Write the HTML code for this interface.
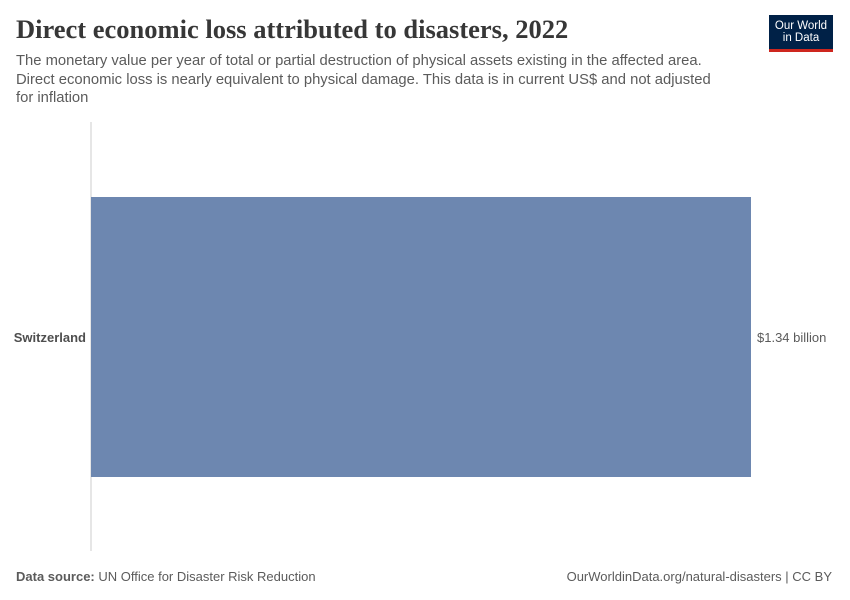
<!DOCTYPE html>
<html><head><meta charset="utf-8"><style>
body{margin:0;width:850px;height:600px;background:#fff;font-family:"Liberation Sans",sans-serif;overflow:hidden;position:relative}
.t{position:absolute;white-space:nowrap}
</style></head><body>
<div class="t" style="left:16px;top:14px;font-family:'Liberation Serif',serif;font-size:26.5px;font-weight:bold;color:#373737">Direct economic loss attributed to disasters, 2022</div>
<div class="t" style="left:16px;top:52px;font-size:14.8px;line-height:18.5px;color:#5b5b5b;white-space:normal;width:740px">The monetary value per year of total or partial destruction of physical assets existing in the affected area.<br>Direct economic loss is nearly equivalent to physical damage. This data is in current US$ and not adjusted<br>for inflation</div>
<div style="position:absolute;left:769px;top:15px;width:64px;height:37px;background:#002147;border-bottom:3px solid #ce261e;box-sizing:border-box;color:#fff;font-size:11.5px;line-height:12px;text-align:center;padding-top:5px">Our World<br>in Data</div>
<svg id="c" width="850" height="600" style="position:absolute;left:0;top:0"></svg>
<div class="t" style="left:16px;top:569px;font-size:13px;color:#5b5b5b"><b>Data source:</b> UN Office for Disaster Risk Reduction</div>
<div class="t" style="right:18px;top:569px;font-size:13px;color:#5b5b5b">OurWorldinData.org/natural-disasters | CC BY</div>
<script>
const categories=["Switzerland"];
const values=[1.34];
const valueLabels=["$1.34 billion"];
const svg=document.getElementById('c');const NS='http://www.w3.org/2000/svg';
const x0=91,x1=751,maxV=1.34;
const xs=v=>x0+(v/maxV)*(x1-x0);
const barTop=197,bandH=280,gap=0;
function mk(t,a){const e=document.createElementNS(NS,t);for(const k in a)e.setAttribute(k,a[k]);svg.appendChild(e);return e;}
const ax=mk('line',{x1:x0,x2:x0,y1:122,y2:551,stroke:'#ccc','stroke-width':1});


categories.forEach((c,i)=>{
 const y=barTop+i*(bandH+gap);
 const r=mk('rect',{x:x0,y:y,width:xs(values[i])-x0,height:bandH,fill:'#6d87b0'});
 
 
 const l=mk('text',{x:86,y:y+bandH/2+5,'text-anchor':'end','font-size':13,'font-weight':'bold',fill:'#4e4e4e','font-family':'Liberation Sans,sans-serif'});
 l.textContent=c;
 
 
 const v=mk('text',{x:xs(values[i])+6,y:y+bandH/2+5,'font-size':13,fill:'#5b5b5b','font-family':'Liberation Sans,sans-serif'});
 v.textContent=valueLabels[i];
 
 
});
</script>
</body></html>
